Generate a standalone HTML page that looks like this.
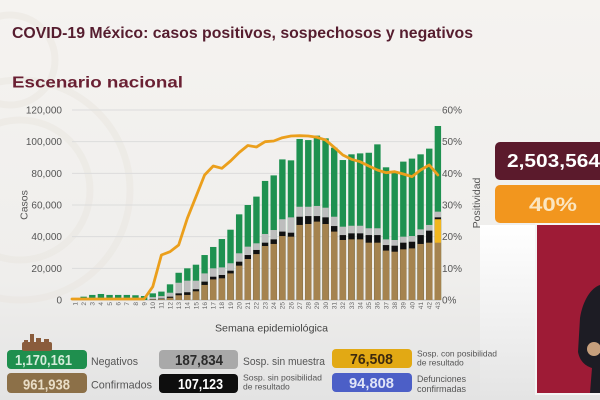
<!DOCTYPE html>
<html><head><meta charset="utf-8">
<style>
html,body{margin:0;padding:0;width:600px;height:400px;overflow:hidden;background:#f1efec}
svg{display:block}
text{font-family:"Liberation Sans",sans-serif}
.g{fill:#1e9150}.s{fill:#bdbdbd}.k{fill:#111}.y{fill:#f2b61f}.b{fill:#a5834f}
.yl{font-size:10px;fill:#555;text-anchor:end}
.rl{font-size:10px;fill:#555}
.xt{font-size:6.5px;fill:#666;text-anchor:end}
</style></head>
<body>
<svg width="600" height="400" viewBox="0 0 600 400">
<defs>
<linearGradient id="bg" x1="0" y1="0" x2="0" y2="1">
<stop offset="0" stop-color="#f5f3f0"/><stop offset="0.7" stop-color="#efeeec"/><stop offset="1" stop-color="#e3e3e3"/>
</linearGradient>
<linearGradient id="side" x1="0" y1="0" x2="0" y2="1">
<stop offset="0" stop-color="#ffffff"/><stop offset="1" stop-color="#e4e4e4"/>
</linearGradient>
</defs>
<rect width="600" height="400" fill="url(#bg)"/>
<rect x="480" y="225" width="60" height="175" fill="url(#side)"/>
<!-- faint decorative arcs -->
<g fill="none" stroke="#e9e5de" stroke-width="7" opacity="0.45">
<circle cx="20" cy="190" r="70"/>
<circle cx="20" cy="190" r="110"/>
<circle cx="10" cy="60" r="45"/>
</g>

<!-- titles -->
<text x="12" y="38" font-size="15.5" font-weight="bold" fill="#561d2f" textLength="461" lengthAdjust="spacingAndGlyphs">COVID-19 México: casos positivos, sospechosos y negativos</text>
<text x="12" y="87.5" font-size="15.5" font-weight="bold" fill="#6a2033" textLength="171" lengthAdjust="spacingAndGlyphs">Escenario nacional</text>

<!-- gridlines -->
<g stroke="#dcdcdc" stroke-width="1">
<line x1="72" y1="110" x2="441" y2="110"/>
<line x1="72" y1="141.67" x2="441" y2="141.67"/>
<line x1="72" y1="173.33" x2="441" y2="173.33"/>
<line x1="72" y1="205" x2="441" y2="205"/>
<line x1="72" y1="236.67" x2="441" y2="236.67"/>
<line x1="72" y1="268.33" x2="441" y2="268.33"/>
</g>
<line x1="72" y1="300" x2="441" y2="300" stroke="#bbb" stroke-width="1"/>

<!-- left axis labels -->
<text class="yl" x="62" y="113.5">120,000</text>
<text class="yl" x="62" y="145.2">100,000</text>
<text class="yl" x="62" y="176.8">80,000</text>
<text class="yl" x="62" y="208.5">60,000</text>
<text class="yl" x="62" y="240.2">40,000</text>
<text class="yl" x="62" y="271.8">20,000</text>
<text class="yl" x="62" y="303.5">0</text>
<!-- right axis labels -->
<text class="rl" x="442" y="113.5">60%</text>
<text class="rl" x="442" y="145.2">50%</text>
<text class="rl" x="442" y="176.8">40%</text>
<text class="rl" x="442" y="208.5">30%</text>
<text class="rl" x="442" y="240.2">20%</text>
<text class="rl" x="442" y="271.8">10%</text>
<text class="rl" x="442" y="303.5">0%</text>

<text transform="translate(27.5,205) rotate(-90)" font-size="10.5" fill="#555" text-anchor="middle">Casos</text>
<text transform="translate(480,203) rotate(-90)" font-size="10.5" fill="#555" text-anchor="middle">Positividad</text>
<text x="215" y="331.5" font-size="10.5" fill="#444" textLength="113" lengthAdjust="spacingAndGlyphs">Semana epidemiológica</text>

<!-- bars -->
<g transform="translate(0,300) scale(1,-0.00158333)">
<rect class="g" x="71.8" y="0" width="6.4" height="1200"/>
<rect class="g" x="80.44" y="0" width="6.4" height="2100"/>
<rect class="g" x="89.08" y="0" width="6.4" height="3200"/>
<rect class="g" x="97.72" y="0" width="6.4" height="3800"/>
<rect class="g" x="106.36" y="0" width="6.4" height="3200"/>
<rect class="g" x="115" y="0" width="6.4" height="3200"/>
<rect class="g" x="123.64" y="0" width="6.4" height="3200"/>
<rect class="g" x="132.28" y="0" width="6.4" height="3000"/>
<rect class="g" x="140.92" y="0" width="6.4" height="2500"/>

<rect class="g" x="149.56" y="0" width="6.4" height="4200"/><rect class="s" x="149.56" y="0" width="6.4" height="1800"/><rect class="k" x="149.56" y="0" width="6.4" height="500"/><rect class="b" x="149.56" y="0" width="6.4" height="300"/>
<rect class="g" x="158.2" y="0" width="6.4" height="5300"/><rect class="s" x="158.2" y="0" width="6.4" height="2500"/><rect class="k" x="158.2" y="0" width="6.4" height="900"/><rect class="b" x="158.2" y="0" width="6.4" height="600"/>
<rect class="g" x="166.84" y="0" width="6.4" height="9900"/><rect class="s" x="166.84" y="0" width="6.4" height="4600"/><rect class="k" x="166.84" y="0" width="6.4" height="2100"/><rect class="b" x="166.84" y="0" width="6.4" height="1400"/>
<rect class="g" x="175.48" y="0" width="6.4" height="17200"/><rect class="s" x="175.48" y="0" width="6.4" height="10900"/><rect class="k" x="175.48" y="0" width="6.4" height="4200"/><rect class="b" x="175.48" y="0" width="6.4" height="3000"/>
<rect class="g" x="184.12" y="0" width="6.4" height="20000"/><rect class="s" x="184.12" y="0" width="6.4" height="12200"/><rect class="k" x="184.12" y="0" width="6.4" height="4900"/><rect class="b" x="184.12" y="0" width="6.4" height="3200"/>
<rect class="g" x="192.76" y="0" width="6.4" height="22300"/><rect class="s" x="192.76" y="0" width="6.4" height="12200"/><rect class="k" x="192.76" y="0" width="6.4" height="6800"/><rect class="b" x="192.76" y="0" width="6.4" height="5500"/>
<rect class="g" x="201.4" y="0" width="6.4" height="28400"/><rect class="s" x="201.4" y="0" width="6.4" height="16800"/><rect class="k" x="201.4" y="0" width="6.4" height="11600"/><rect class="b" x="201.4" y="0" width="6.4" height="9500"/>
<rect class="g" x="210.04" y="0" width="6.4" height="33500"/><rect class="s" x="210.04" y="0" width="6.4" height="20000"/><rect class="k" x="210.04" y="0" width="6.4" height="14700"/><rect class="b" x="210.04" y="0" width="6.4" height="13000"/>
<rect class="g" x="218.68" y="0" width="6.4" height="38500"/><rect class="s" x="218.68" y="0" width="6.4" height="20600"/><rect class="k" x="218.68" y="0" width="6.4" height="15800"/><rect class="b" x="218.68" y="0" width="6.4" height="13700"/>
<rect class="g" x="227.32" y="0" width="6.4" height="44400"/><rect class="s" x="227.32" y="0" width="6.4" height="23200"/><rect class="k" x="227.32" y="0" width="6.4" height="18500"/><rect class="b" x="227.32" y="0" width="6.4" height="16800"/>
<rect class="g" x="235.96" y="0" width="6.4" height="54100"/><rect class="s" x="235.96" y="0" width="6.4" height="29500"/><rect class="k" x="235.96" y="0" width="6.4" height="24200"/><rect class="b" x="235.96" y="0" width="6.4" height="21700"/>
<rect class="g" x="244.6" y="0" width="6.4" height="60000"/><rect class="s" x="244.6" y="0" width="6.4" height="33700"/><rect class="k" x="244.6" y="0" width="6.4" height="28400"/><rect class="b" x="244.6" y="0" width="6.4" height="25900"/>
<rect class="g" x="253.24" y="0" width="6.4" height="65300"/><rect class="s" x="253.24" y="0" width="6.4" height="35800"/><rect class="k" x="253.24" y="0" width="6.4" height="31600"/><rect class="b" x="253.24" y="0" width="6.4" height="29000"/>
<rect class="g" x="261.88" y="0" width="6.4" height="75200"/><rect class="s" x="261.88" y="0" width="6.4" height="41700"/><rect class="k" x="261.88" y="0" width="6.4" height="36200"/><rect class="b" x="261.88" y="0" width="6.4" height="34100"/>
<rect class="g" x="270.52" y="0" width="6.4" height="78700"/><rect class="s" x="270.52" y="0" width="6.4" height="44200"/><rect class="k" x="270.52" y="0" width="6.4" height="38300"/><rect class="b" x="270.52" y="0" width="6.4" height="35400"/>
<rect class="g" x="279.16" y="0" width="6.4" height="88800"/><rect class="s" x="279.16" y="0" width="6.4" height="51000"/><rect class="k" x="279.16" y="0" width="6.4" height="43200"/><rect class="b" x="279.16" y="0" width="6.4" height="40400"/>
<rect class="g" x="287.8" y="0" width="6.4" height="88200"/><rect class="s" x="287.8" y="0" width="6.4" height="52200"/><rect class="k" x="287.8" y="0" width="6.4" height="42500"/><rect class="b" x="287.8" y="0" width="6.4" height="40000"/>
<rect class="g" x="296.44" y="0" width="6.4" height="101700"/><rect class="s" x="296.44" y="0" width="6.4" height="58900"/><rect class="k" x="296.44" y="0" width="6.4" height="52600"/><rect class="b" x="296.44" y="0" width="6.4" height="47400"/>
<rect class="g" x="305.08" y="0" width="6.4" height="101000"/><rect class="s" x="305.08" y="0" width="6.4" height="58900"/><rect class="k" x="305.08" y="0" width="6.4" height="53000"/><rect class="b" x="305.08" y="0" width="6.4" height="48000"/>
<rect class="g" x="313.72" y="0" width="6.4" height="103800"/><rect class="s" x="313.72" y="0" width="6.4" height="59400"/><rect class="k" x="313.72" y="0" width="6.4" height="53000"/><rect class="b" x="313.72" y="0" width="6.4" height="49500"/>
<rect class="g" x="322.36" y="0" width="6.4" height="102100"/><rect class="s" x="322.36" y="0" width="6.4" height="58300"/><rect class="k" x="322.36" y="0" width="6.4" height="52200"/><rect class="b" x="322.36" y="0" width="6.4" height="48000"/>
<rect class="g" x="331" y="0" width="6.4" height="96200"/><rect class="s" x="331" y="0" width="6.4" height="52600"/><rect class="k" x="331" y="0" width="6.4" height="46700"/><rect class="b" x="331" y="0" width="6.4" height="43200"/>
<rect class="g" x="339.64" y="0" width="6.4" height="88400"/><rect class="s" x="339.64" y="0" width="6.4" height="46300"/><rect class="k" x="339.64" y="0" width="6.4" height="41000"/><rect class="b" x="339.64" y="0" width="6.4" height="37900"/>
<rect class="g" x="348.28" y="0" width="6.4" height="92000"/><rect class="s" x="348.28" y="0" width="6.4" height="46900"/><rect class="k" x="348.28" y="0" width="6.4" height="42100"/><rect class="b" x="348.28" y="0" width="6.4" height="38300"/>
<rect class="g" x="356.92" y="0" width="6.4" height="92600"/><rect class="s" x="356.92" y="0" width="6.4" height="46900"/><rect class="k" x="356.92" y="0" width="6.4" height="42100"/><rect class="b" x="356.92" y="0" width="6.4" height="38300"/>
<rect class="g" x="365.56" y="0" width="6.4" height="93000"/><rect class="s" x="365.56" y="0" width="6.4" height="45300"/><rect class="k" x="365.56" y="0" width="6.4" height="41000"/><rect class="b" x="365.56" y="0" width="6.4" height="36200"/>
<rect class="g" x="374.2" y="0" width="6.4" height="98300"/><rect class="s" x="374.2" y="0" width="6.4" height="45300"/><rect class="k" x="374.2" y="0" width="6.4" height="41000"/><rect class="b" x="374.2" y="0" width="6.4" height="36200"/>
<rect class="g" x="382.84" y="0" width="6.4" height="83800"/><rect class="s" x="382.84" y="0" width="6.4" height="38300"/><rect class="k" x="382.84" y="0" width="6.4" height="34700"/><rect class="b" x="382.84" y="0" width="6.4" height="31200"/>
<rect class="g" x="391.48" y="0" width="6.4" height="81300"/><rect class="s" x="391.48" y="0" width="6.4" height="37900"/><rect class="k" x="391.48" y="0" width="6.4" height="34300"/><rect class="b" x="391.48" y="0" width="6.4" height="30500"/>
<rect class="g" x="400.12" y="0" width="6.4" height="87400"/><rect class="s" x="400.12" y="0" width="6.4" height="40000"/><rect class="k" x="400.12" y="0" width="6.4" height="36200"/><rect class="b" x="400.12" y="0" width="6.4" height="32000"/>
<rect class="g" x="408.76" y="0" width="6.4" height="89300"/><rect class="s" x="408.76" y="0" width="6.4" height="40400"/><rect class="k" x="408.76" y="0" width="6.4" height="36800"/><rect class="b" x="408.76" y="0" width="6.4" height="32600"/>
<rect class="g" x="417.4" y="0" width="6.4" height="92000"/><rect class="s" x="417.4" y="0" width="6.4" height="44600"/><rect class="k" x="417.4" y="0" width="6.4" height="41000"/><rect class="b" x="417.4" y="0" width="6.4" height="35400"/>
<rect class="g" x="426.04" y="0" width="6.4" height="95600"/><rect class="s" x="426.04" y="0" width="6.4" height="47400"/><rect class="k" x="426.04" y="0" width="6.4" height="43800"/><rect class="b" x="426.04" y="0" width="6.4" height="36200"/>
<rect class="g" x="434.68" y="0" width="6.4" height="109900"/><rect class="s" x="434.68" y="0" width="6.4" height="55800"/><rect class="k" x="434.68" y="0" width="6.4" height="52200"/><rect class="y" x="434.68" y="0" width="6.4" height="51000"/><rect class="b" x="434.68" y="0" width="6.4" height="36200"/>
</g>

<!-- positivity line -->
<polyline fill="none" stroke="#eb9f1c" stroke-width="2.8" stroke-linejoin="round" stroke-linecap="round"
points="72,299 83.64,299 92.28,299 100.92,299 109.56,299 118.2,299 126.84,299 135.48,299 144.12,299 152.76,286.7 161.4,255 170.04,251.7 178.68,245 187.32,218.3 195.96,196.7 204.6,175 213.24,166 221.88,168.3 230.52,161 239.16,152.5 247.8,145.5 256.44,147 265.08,141.7 273.72,141 282.36,137.7 291,136 299.64,135.7 308.28,136 316.92,137.3 325.56,140 334.2,147.3 342.84,155 351.48,159.3 360.12,161.7 368.76,166 377.4,170 386.04,172.7 394.68,171.7 403.32,174 411.96,176.7 420.6,170 429.24,165 437.88,175"/>

<!-- x tick labels -->
<g class="xt">
<text class="xt" transform="translate(77.3,302) rotate(-90)">1</text>
<text class="xt" transform="translate(85.94,302) rotate(-90)">2</text>
<text class="xt" transform="translate(94.58,302) rotate(-90)">3</text>
<text class="xt" transform="translate(103.22,302) rotate(-90)">4</text>
<text class="xt" transform="translate(111.86,302) rotate(-90)">5</text>
<text class="xt" transform="translate(120.5,302) rotate(-90)">6</text>
<text class="xt" transform="translate(129.14,302) rotate(-90)">7</text>
<text class="xt" transform="translate(137.78,302) rotate(-90)">8</text>
<text class="xt" transform="translate(146.42,302) rotate(-90)">9</text>
<text class="xt" transform="translate(155.06,302) rotate(-90)">10</text>
<text class="xt" transform="translate(163.7,302) rotate(-90)">11</text>
<text class="xt" transform="translate(172.34,302) rotate(-90)">12</text>
<text class="xt" transform="translate(180.98,302) rotate(-90)">13</text>
<text class="xt" transform="translate(189.62,302) rotate(-90)">14</text>
<text class="xt" transform="translate(198.26,302) rotate(-90)">15</text>
<text class="xt" transform="translate(206.9,302) rotate(-90)">16</text>
<text class="xt" transform="translate(215.54,302) rotate(-90)">17</text>
<text class="xt" transform="translate(224.18,302) rotate(-90)">18</text>
<text class="xt" transform="translate(232.82,302) rotate(-90)">19</text>
<text class="xt" transform="translate(241.46,302) rotate(-90)">20</text>
<text class="xt" transform="translate(250.1,302) rotate(-90)">21</text>
<text class="xt" transform="translate(258.74,302) rotate(-90)">22</text>
<text class="xt" transform="translate(267.38,302) rotate(-90)">23</text>
<text class="xt" transform="translate(276.02,302) rotate(-90)">24</text>
<text class="xt" transform="translate(284.66,302) rotate(-90)">25</text>
<text class="xt" transform="translate(293.3,302) rotate(-90)">26</text>
<text class="xt" transform="translate(301.94,302) rotate(-90)">27</text>
<text class="xt" transform="translate(310.58,302) rotate(-90)">28</text>
<text class="xt" transform="translate(319.22,302) rotate(-90)">29</text>
<text class="xt" transform="translate(327.86,302) rotate(-90)">30</text>
<text class="xt" transform="translate(336.5,302) rotate(-90)">31</text>
<text class="xt" transform="translate(345.14,302) rotate(-90)">32</text>
<text class="xt" transform="translate(353.78,302) rotate(-90)">33</text>
<text class="xt" transform="translate(362.42,302) rotate(-90)">34</text>
<text class="xt" transform="translate(371.06,302) rotate(-90)">35</text>
<text class="xt" transform="translate(379.7,302) rotate(-90)">36</text>
<text class="xt" transform="translate(388.34,302) rotate(-90)">37</text>
<text class="xt" transform="translate(396.98,302) rotate(-90)">38</text>
<text class="xt" transform="translate(405.62,302) rotate(-90)">39</text>
<text class="xt" transform="translate(414.26,302) rotate(-90)">40</text>
<text class="xt" transform="translate(422.9,302) rotate(-90)">41</text>
<text class="xt" transform="translate(431.54,302) rotate(-90)">42</text>
<text class="xt" transform="translate(440.18,302) rotate(-90)">43</text>
</g>

<!-- right panel -->
<rect x="495" y="142" width="115" height="38" rx="5" fill="#5b1a2c"/>
<text x="507" y="167" font-size="18.5" font-weight="bold" fill="#ffffff" textLength="93" lengthAdjust="spacingAndGlyphs">2,503,564</text>
<rect x="495" y="185" width="115" height="38" rx="5" fill="#f2961e"/>
<text x="529" y="211" font-size="19.5" font-weight="bold" fill="#fbe6c0" textLength="48" lengthAdjust="spacingAndGlyphs">40%</text>

<rect x="535" y="223" width="70" height="172" fill="#f4f4f4"/>
<rect x="537" y="225" width="70" height="168" fill="#9e1b36"/>
<path d="M600,285 C591,288 583,300 580,318 L578,352 C580,362 586,366 592,368 L590,393 L600,393 Z" fill="#1d1c24"/>
<ellipse cx="594" cy="349" rx="7" ry="7" fill="#c69f7c"/>

<!-- legend boxes -->
<rect x="7" y="350" width="80" height="19" rx="4" fill="#1f8f4e"/>
<text x="15" y="365" font-size="14.5" font-weight="bold" fill="#d4ecda" textLength="57" lengthAdjust="spacingAndGlyphs">1,170,161</text>
<rect x="7" y="373" width="80" height="20" rx="4" fill="#8c7048"/>
<text x="23" y="389.5" font-size="14.5" font-weight="bold" fill="#e9ddc6" textLength="47" lengthAdjust="spacingAndGlyphs">961,938</text>
<!-- logo -->
<g fill="#8a5c3c">
<rect x="22" y="342" width="30" height="9" rx="2"/>
<rect x="30" y="334" width="4" height="9"/>
<rect x="36" y="338" width="5" height="6"/>
<rect x="44" y="339" width="5" height="5"/>
<rect x="24" y="340" width="4" height="4"/>
</g>
<text x="91" y="365" font-size="11" fill="#555" textLength="47" lengthAdjust="spacingAndGlyphs">Negativos</text>
<text x="91" y="388.5" font-size="11" fill="#555" textLength="61" lengthAdjust="spacingAndGlyphs">Confirmados</text>

<rect x="159" y="350" width="79" height="19" rx="4" fill="#a9a9a9"/>
<text x="175" y="365" font-size="14.5" font-weight="bold" fill="#2b2b2b" textLength="48" lengthAdjust="spacingAndGlyphs">187,834</text>
<rect x="159" y="374" width="79" height="19" rx="4" fill="#0e0e0e"/>
<text x="178" y="389" font-size="14.5" font-weight="bold" fill="#ffffff" textLength="45" lengthAdjust="spacingAndGlyphs">107,123</text>
<text x="243" y="365" font-size="11" fill="#555" textLength="82" lengthAdjust="spacingAndGlyphs">Sosp. sin muestra</text>
<text x="243" y="380.5" font-size="8.5" fill="#555" textLength="79" lengthAdjust="spacingAndGlyphs">Sosp. sin posibilidad</text>
<text x="243" y="389.5" font-size="8.5" fill="#555">de resultado</text>

<rect x="332" y="349" width="80" height="19" rx="4" fill="#e2a914"/>
<text x="350" y="364" font-size="14.5" font-weight="bold" fill="#3d2a0f" textLength="43" lengthAdjust="spacingAndGlyphs">76,508</text>
<rect x="332" y="373" width="80" height="19" rx="4" fill="#4c5fc7"/>
<text x="349" y="388" font-size="14.5" font-weight="bold" fill="#e0e4f7" textLength="45" lengthAdjust="spacingAndGlyphs">94,808</text>
<text x="417" y="356.5" font-size="8.5" fill="#555" textLength="80" lengthAdjust="spacingAndGlyphs">Sosp. con posibilidad</text>
<text x="417" y="365.5" font-size="8.5" fill="#555">de resultado</text>
<text x="417" y="382" font-size="9" fill="#555" textLength="49" lengthAdjust="spacingAndGlyphs">Defunciones</text>
<text x="417" y="392" font-size="9" fill="#555" textLength="49" lengthAdjust="spacingAndGlyphs">confirmadas</text>
</svg>
</body></html>
